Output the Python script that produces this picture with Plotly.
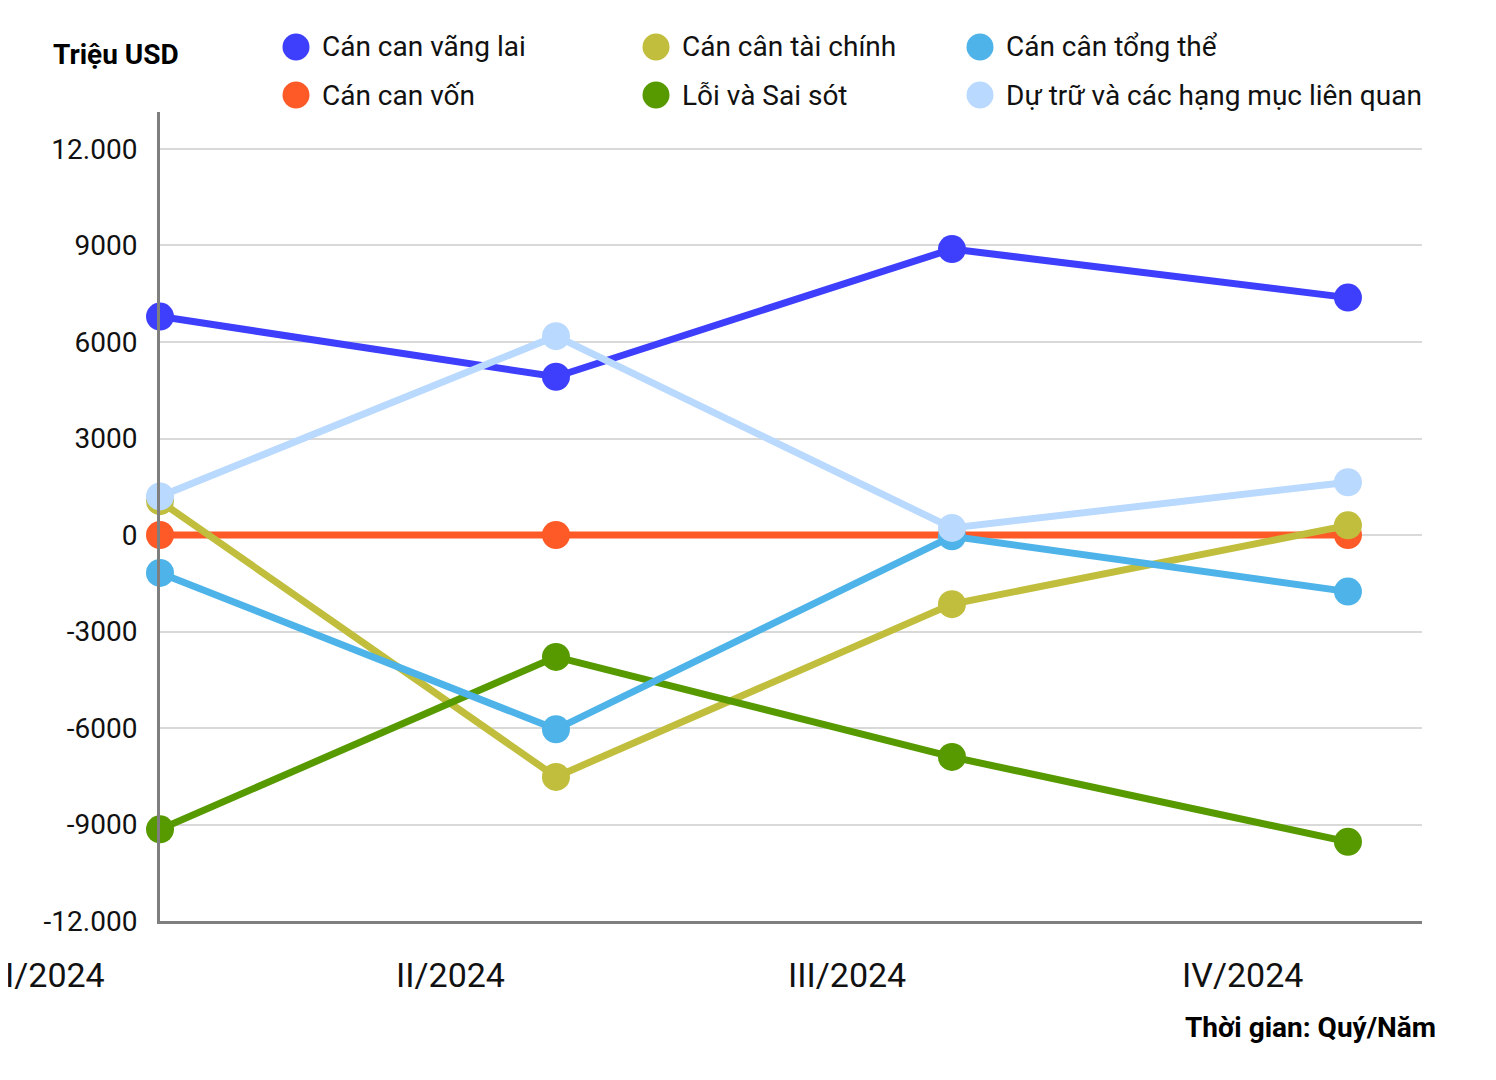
import plotly.graph_objects as go

categories = ["I/2024", "II/2024", "III/2024", "IV/2024"]
series_names = [
    "Cán can vãng lai",
    "Cán can vốn",
    "Cán cân tài chính",
    "Lỗi và Sai sót",
    "Cán cân tổng thể",
    "Dự trữ và các hạng mục liên quan",
]
can_can_vang_lai = [6790, 4920, 8890, 7380]
can_can_von = [0, 0, 0, 0]
can_can_tai_chinh = [1050, -7520, -2150, 300]
loi_va_sai_sot = [-9150, -3790, -6900, -9540]
can_can_tong_the = [-1180, -6040, -40, -1760]
du_tru = [1200, 6180, 220, 1640]
colors = ["#3e3efd", "#fe5a27", "#c0be3c", "#579a00", "#4db3e8", "#b9d9fe"]
y_tickvals = [12000, 9000, 6000, 3000, 0, -3000, -6000, -9000, -12000]
y_ticktext = ["12.000", "9000", "6000", "3000", "0", "-3000", "-6000", "-9000", "-12.000"]

values = [can_can_vang_lai, can_can_von, can_can_tai_chinh, loi_va_sai_sot, can_can_tong_the, du_tru]
x_idx = list(range(len(categories)))

OFF = 8  # page body margin
W, H = 1496, 1080
L, R, T, B = 152, 82, 104, 167
pw, ph = W - L - R, H - T - B

def px(x):
    return (x - OFF - L) / pw

def py(y):
    return (H - B - (y - OFF)) / ph

fig = go.Figure()
for name, vals, col in zip(series_names, values, colors):
    fig.add_trace(go.Scatter(
        x=x_idx, y=vals, name=name, mode="lines+markers",
        line=dict(color=col, width=7),
        marker=dict(color=col, size=28),
        cliponaxis=False, showlegend=False,
        customdata=categories,
        hovertemplate="%{customdata}: %{y}<extra>" + name + "</extra>",
    ))

annotations = []
for i, c in enumerate(categories):
    annotations.append(dict(
        x=i, y=0, xref="x", yref="paper", yshift=-54, xshift=-105,
        text=c, showarrow=False, xanchor="center", yanchor="middle",
        borderpad=0,
        font=dict(size=34, color="#111111"),
    ))

legend_cols_px = [296, 656, 980]
legend_rows_px = [47, 95]
shapes = []
for k, (name, col) in enumerate(zip(series_names, colors)):
    cx = legend_cols_px[k // 2]
    cy = legend_rows_px[k % 2]
    shapes.append(dict(
        type="circle", xref="paper", yref="paper",
        xsizemode="pixel", ysizemode="pixel",
        xanchor=px(cx), yanchor=py(cy),
        x0=-13.5, x1=13.5, y0=-13.5, y1=13.5,
        fillcolor=col, line=dict(width=0),
    ))
    annotations.append(dict(
        x=px(cx + 24), y=py(cy), xref="paper", yref="paper",
        text=name, showarrow=False, xanchor="left", yanchor="middle",
        font=dict(size=28, color="#111111"),
    ))

annotations.append(dict(
    x=px(116), y=py(54), xref="paper", yref="paper",
    text="<b>Triệu USD</b>", showarrow=False, xanchor="center", yanchor="middle",
    font=dict(size=28, color="#000000"),
))
annotations.append(dict(
    x=px(1438), y=py(1027), xref="paper", yref="paper",
    text="<b>Thời gian: Quý/Năm</b>", showarrow=False, xanchor="right", yanchor="middle",
    font=dict(size=28, color="#000000"),
))

fig.update_layout(
    width=W, height=H,
    margin=dict(l=L, r=R, t=T, b=B, pad=0),
    paper_bgcolor="white", plot_bgcolor="white",
    font=dict(family="Roboto, Noto Sans, sans-serif", color="#111111"),
    shapes=shapes, annotations=annotations,
    showlegend=False,
)
fig.update_xaxes(
    range=[0, 3.187], showgrid=False, zeroline=False,
    showticklabels=False, ticks="",
    showline=True, linecolor="#7f7f7f", linewidth=3,
)
fig.update_yaxes(
    range=[-12000, 13150],
    tickvals=y_tickvals, ticktext=y_ticktext,
    tickfont=dict(size=28, color="#111111"),
    ticklabelstandoff=14,
    showgrid=True, gridcolor="#d9d9d9", gridwidth=2,
    zeroline=True, zerolinecolor="#d9d9d9", zerolinewidth=2,
    showline=True, linecolor="#7f7f7f", linewidth=3, ticks="",
)

fig.write_html("out.html")
